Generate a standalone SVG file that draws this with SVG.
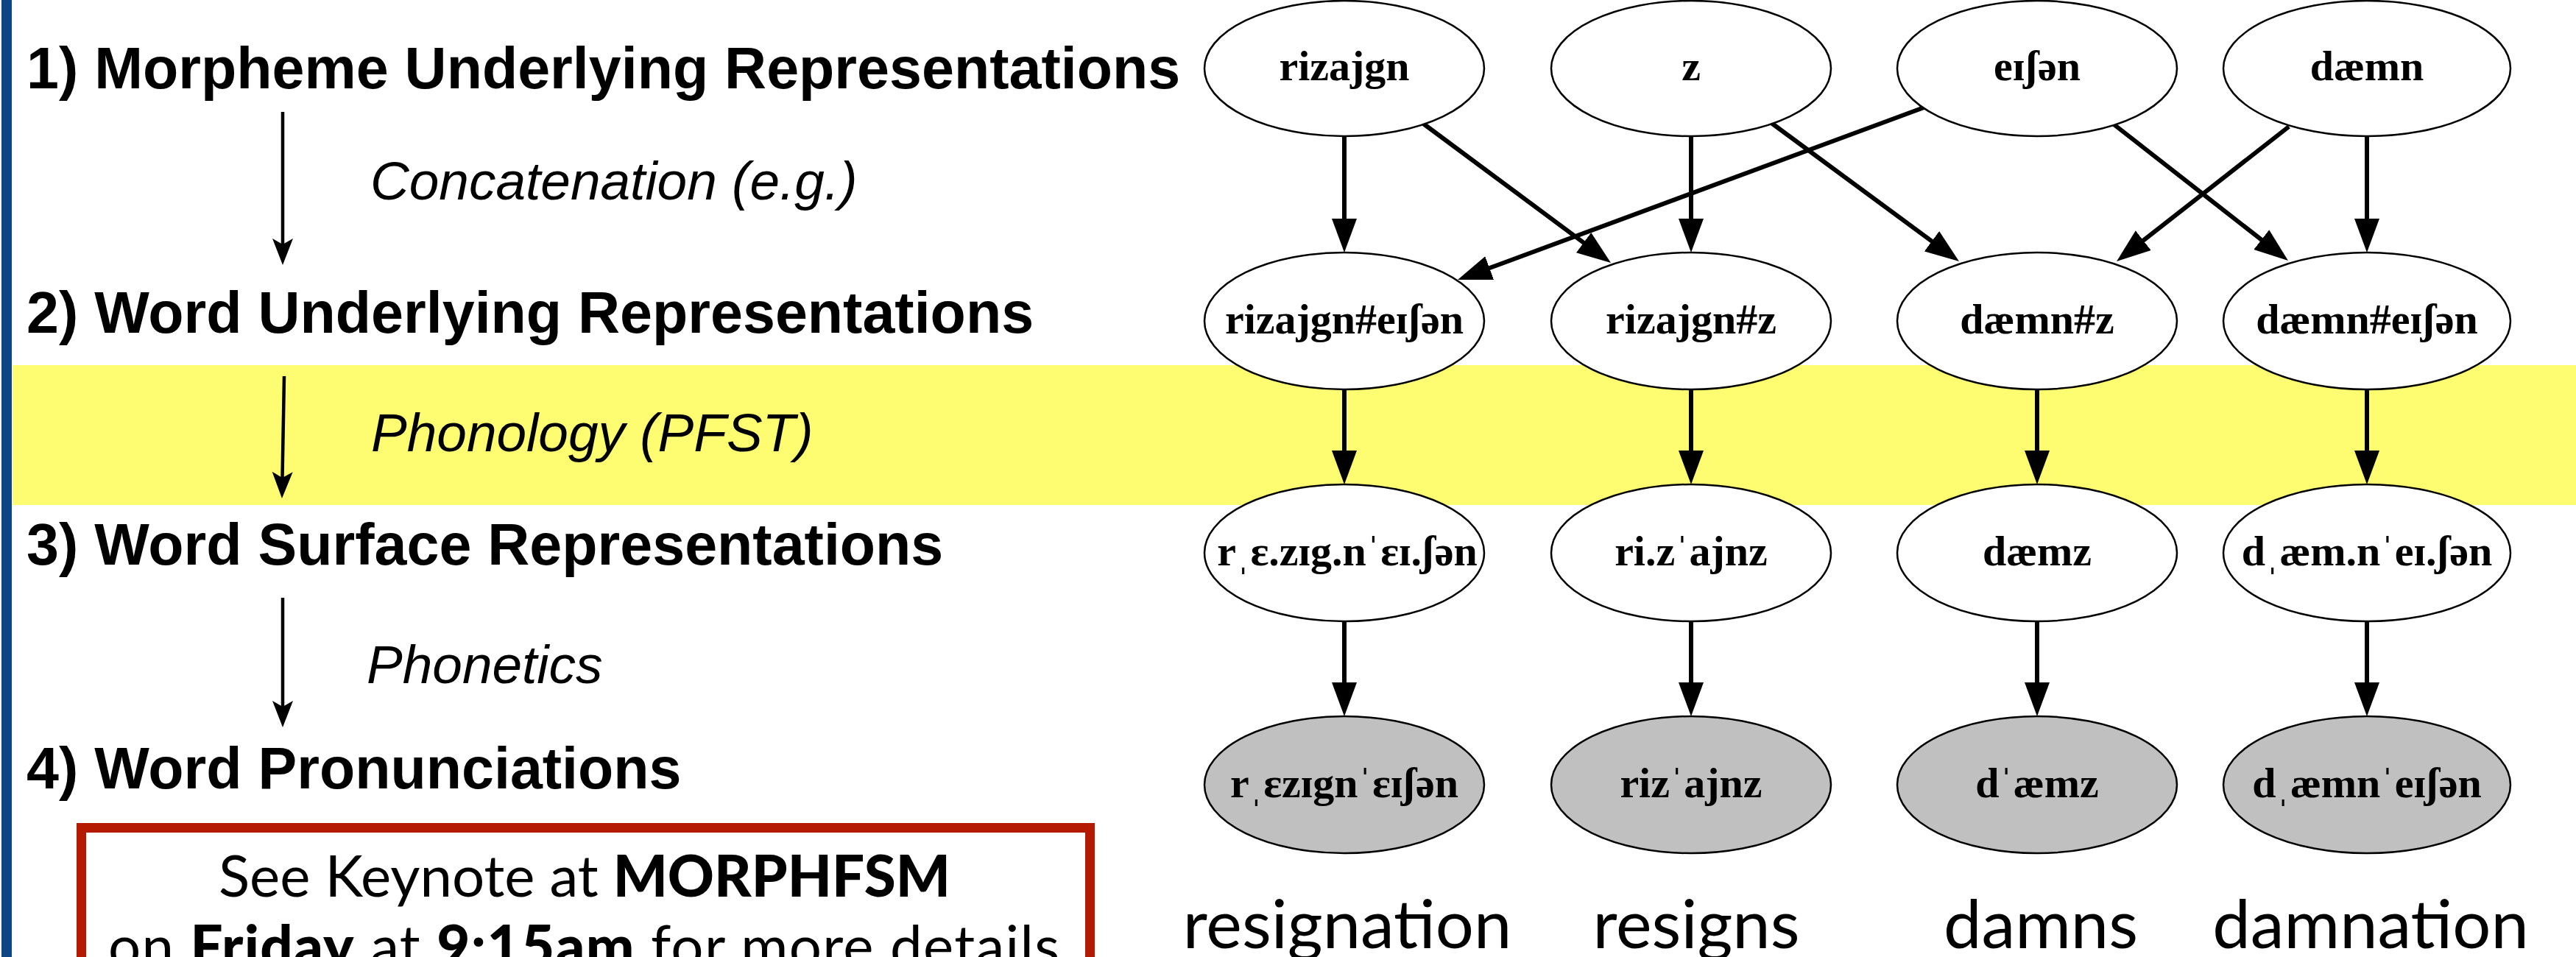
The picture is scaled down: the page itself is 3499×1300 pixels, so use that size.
<svg xmlns="http://www.w3.org/2000/svg" width="3499" height="1300" viewBox="0 0 3499 1300">
<style>
.h{font-family:"Liberation Sans",Arial,sans-serif;font-weight:bold;font-size:79px;fill:#000}
.lbl{font-family:"Liberation Sans",Arial,sans-serif;font-style:italic;font-size:73px;fill:#000}
.nd ellipse{fill:#fff;stroke:#000;stroke-width:2.5}
.nd.p ellipse{fill:#c0c0c0}
.nt{font-family:"Liberation Serif","DejaVu Serif",serif;font-weight:bold;font-size:58px;text-anchor:middle;fill:#000}
.e{stroke:#000;stroke-width:6;fill:none;marker-end:url(#ah)}
.le{stroke:#000;stroke-width:4.5;fill:none;marker-end:url(#ahl)}
.w{font-family:Lato,"Open Sans",sans-serif;font-size:92px;text-anchor:middle;fill:#000}
.bx{font-family:Lato,"Open Sans",sans-serif;font-size:78px;text-anchor:middle;fill:#000}
.bx .b{font-weight:900}
</style>
<defs>
<marker id="ah" markerUnits="userSpaceOnUse" markerWidth="48" markerHeight="36" viewBox="0 0 48 36" refX="2" refY="18" orient="auto">
<path d="M0,1 L46,18 L0,35 Z" fill="#000"/>
</marker>
<marker id="ahl" markerUnits="userSpaceOnUse" markerWidth="38" markerHeight="30" viewBox="0 0 38 30" refX="8" refY="15" orient="auto">
<path d="M0,1 L36,15 L0,29 L8,15 Z" fill="#000"/>
</marker>
</defs>
<rect x="0" y="0" width="3499" height="1300" fill="#fff"/>
<rect id="blue-bar" x="2" y="0" width="14" height="1300" fill="#0e4584"/>
<rect id="phonology-band" x="17" y="496" width="3482" height="190" fill="#fefc70"/>

<g id="left-labels">
<text class="h" x="36" y="120">1) Morpheme Underlying Representations</text>
<text class="h" x="36" y="452">2) Word Underlying Representations</text>
<text class="h" x="36" y="767">3) Word Surface Representations</text>
<text class="h" x="36" y="1071">4) Word Pronunciations</text>
<text class="lbl" x="503" y="271">Concatenation (e.g.)</text>
<text class="lbl" x="504" y="613">Phonology (PFST)</text>
<text class="lbl" x="498" y="928">Phonetics</text>
</g>

<g id="left-arrows">
<line class="le" x1="384" y1="152" x2="384" y2="332"/>
<line class="le" x1="386" y1="511" x2="383.5" y2="649"/>
<line class="le" x1="384" y1="812" x2="384" y2="960"/>
</g>

<g id="connectors">
<line class="e" x1="1826" y1="185" x2="1826" y2="299"/>
<line class="e" x1="2297" y1="185" x2="2297" y2="299"/>
<line class="e" x1="3215" y1="185" x2="3215" y2="299"/>
<line class="e" x1="1932" y1="167" x2="2152.7" y2="330.8"/>
<line class="e" x1="2406" y1="167" x2="2625.6" y2="328.9"/>
<line class="e" x1="2616" y1="145" x2="2021.3" y2="364.8"/>
<line class="e" x1="2870" y1="168" x2="3073.3" y2="326.9"/>
<line class="e" x1="3109" y1="172" x2="2909.7" y2="327.9"/>
<line class="e" x1="1826" y1="529" x2="1826" y2="614"/>
<line class="e" x1="2297" y1="529" x2="2297" y2="614"/>
<line class="e" x1="2767" y1="529" x2="2767" y2="614"/>
<line class="e" x1="3215" y1="529" x2="3215" y2="614"/>
<line class="e" x1="1826" y1="844" x2="1826" y2="929"/>
<line class="e" x1="2297" y1="844" x2="2297" y2="929"/>
<line class="e" x1="2767" y1="844" x2="2767" y2="929"/>
<line class="e" x1="3215" y1="844" x2="3215" y2="929"/>
</g>

<g id="n-rizajgn" class="nd"><ellipse cx="1826" cy="93" rx="190" ry="92"/><text class="nt" x="1826" y="109">rizajgn</text></g>
<g id="n-z" class="nd"><ellipse cx="2297" cy="93" rx="190" ry="92"/><text class="nt" x="2297" y="109">z</text></g>
<g id="n-eishen" class="nd"><ellipse cx="2767" cy="93" rx="190" ry="92"/><text class="nt" x="2767" y="109">eɪʃən</text></g>
<g id="n-daemn" class="nd"><ellipse cx="3215" cy="93" rx="195" ry="92"/><text class="nt" x="3215" y="109">dæmn</text></g>

<g id="n-rizajgn-eishen" class="nd"><ellipse cx="1826" cy="436" rx="190" ry="93"/><text class="nt" x="1826" y="453">rizajgn#eɪʃən</text></g>
<g id="n-rizajgn-z" class="nd"><ellipse cx="2297" cy="436" rx="190" ry="93"/><text class="nt" x="2297" y="453">rizajgn#z</text></g>
<g id="n-daemn-z" class="nd"><ellipse cx="2767" cy="436" rx="190" ry="93"/><text class="nt" x="2767" y="453">dæmn#z</text></g>
<g id="n-daemn-eishen" class="nd"><ellipse cx="3215" cy="436" rx="195" ry="93"/><text class="nt" x="3215" y="453">dæmn#eɪʃən</text></g>

<g id="s-resignation" class="nd"><ellipse cx="1826" cy="751" rx="190" ry="93"/><text class="nt" x="1830" y="768">rˌɛ.zɪg.nˈɛɪ.ʃən</text></g>
<g id="s-resigns" class="nd"><ellipse cx="2297" cy="751" rx="190" ry="93"/><text class="nt" x="2297" y="768">ri.zˈajnz</text></g>
<g id="s-damns" class="nd"><ellipse cx="2767" cy="751" rx="190" ry="93"/><text class="nt" x="2767" y="768">dæmz</text></g>
<g id="s-damnation" class="nd"><ellipse cx="3215" cy="751" rx="195" ry="93"/><text class="nt" x="3215" y="768">dˌæm.nˈeɪ.ʃən</text></g>

<g id="p-resignation" class="nd p"><ellipse cx="1826" cy="1066" rx="190" ry="93"/><text class="nt" x="1826" y="1083">rˌɛzɪgnˈɛɪʃən</text></g>
<g id="p-resigns" class="nd p"><ellipse cx="2297" cy="1066" rx="190" ry="93"/><text class="nt" x="2297" y="1083">rizˈajnz</text></g>
<g id="p-damns" class="nd p"><ellipse cx="2767" cy="1066" rx="190" ry="93"/><text class="nt" x="2767" y="1083">dˈæmz</text></g>
<g id="p-damnation" class="nd p"><ellipse cx="3215" cy="1066" rx="195" ry="93"/><text class="nt" x="3215" y="1083">dˌæmnˈeɪʃən</text></g>

<g id="words">
<text class="w" x="1830" y="1288">resignation</text>
<text class="w" x="2304" y="1288">resigns</text>
<text class="w" x="2772" y="1288">damns</text>
<text class="w" x="3220" y="1288">damnation</text>
</g>

<g id="note-box">
<rect x="110.5" y="1124.5" width="1370" height="300" fill="none" stroke="#b41a00" stroke-width="13"/>
<text class="bx" x="794" y="1218">See Keynote at <tspan class="b">MORPHFSM</tspan></text>
<text class="bx" x="793" y="1313" textLength="1292">on <tspan class="b">Friday</tspan> at <tspan class="b">9:15am</tspan> for more details</text>
</g>
</svg>
